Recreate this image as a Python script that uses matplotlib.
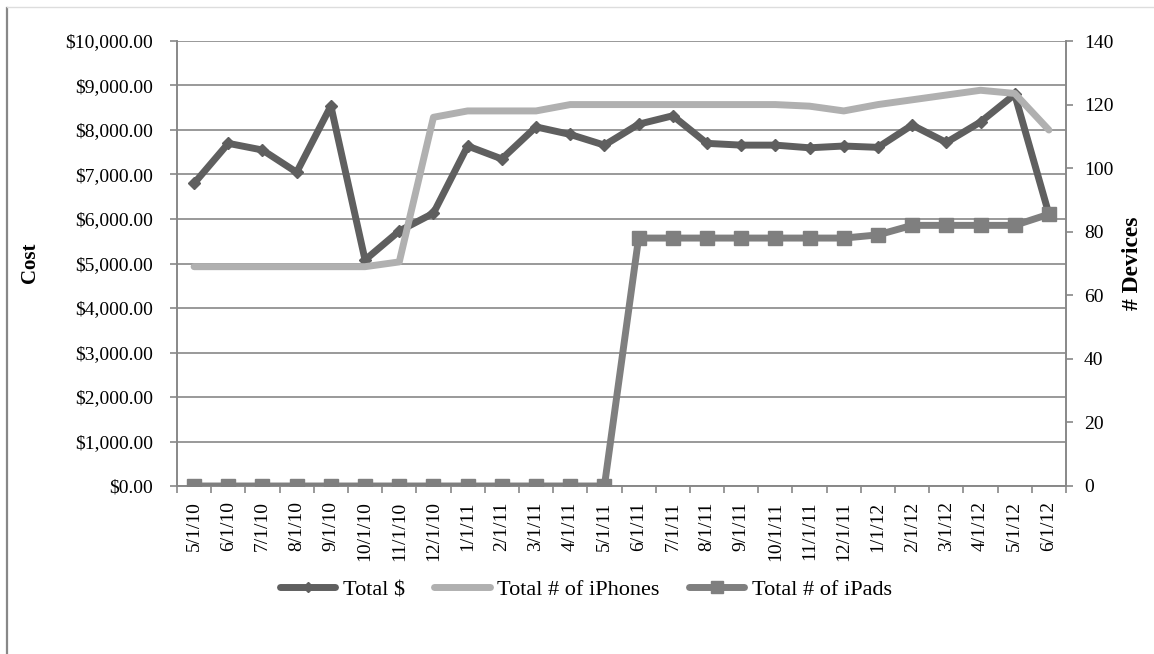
import matplotlib
matplotlib.use("Agg")
import matplotlib.pyplot as plt
from matplotlib.lines import Line2D
import numpy as np

# === Data ===
months = ["5/1/10", "6/1/10", "7/1/10", "8/1/10", "9/1/10", "10/1/10", "11/1/10",
          "12/1/10", "1/1/11", "2/1/11", "3/1/11", "4/1/11", "5/1/11", "6/1/11",
          "7/1/11", "8/1/11", "9/1/11", "10/1/11", "11/1/11", "12/1/11", "1/1/12",
          "2/1/12", "3/1/12", "4/1/12", "5/1/12", "6/1/12"]
total_cost = [6800, 7700, 7550, 7050, 8540, 5080, 5730, 6130, 7640, 7350, 8070,
              7900, 7660, 8130, 8320, 7700, 7660, 7660, 7600, 7640, 7610, 8110,
              7720, 8180, 8800, 6110]
iphones = [69, 69, 69, 69, 69, 69, 70.5, 116, 118, 118, 118, 120, 120, 120,
           120, 120, 120, 120, 119.5, 118, 120, 121.5, 123, 124.5, 123.5, 112]
ipads = [0, 0, 0, 0, 0, 0, 0, 0, 0, 0, 0, 0, 0, 78, 78, 78, 78, 78, 78, 78,
         79, 82, 82, 82, 82, 85.5]

plt.rcParams["font.family"] = ["Liberation Serif", "DejaVu Serif"]

grid_c = "#888888"
c_cost = "#5f5f5f"
c_phone = "#b0b0b0"
c_pad = "#7f7f7f"

fig = plt.figure(figsize=(11.54, 6.54), dpi=100)
ax = fig.add_axes([177 / 1154, 1 - 486 / 654, (1066 - 177) / 1154, (486 - 41) / 654])
ax2 = ax.twinx()

x = np.arange(len(months))

l1, = ax.plot(x, total_cost, color=c_cost, lw=5, marker="D", ms=6,
              solid_joinstyle="round", solid_capstyle="round", zorder=3)
l2, = ax2.plot(x, iphones, color=c_phone, lw=5,
               solid_joinstyle="round", solid_capstyle="round", zorder=2)
l3, = ax2.plot(x, ipads, color=c_pad, lw=5, marker="s", ms=10,
               solid_joinstyle="round", solid_capstyle="round", zorder=3)

# --- primary axis ---
ax.set_xlim(-0.5, len(months) - 0.5)
ax.set_ylim(0, 10000)
ax.set_yticks(np.arange(0, 10001, 1000))
ax.set_yticklabels(["${:,.2f}".format(v) for v in range(0, 10001, 1000)], fontsize=14)
ax.yaxis.grid(True, color=grid_c, lw=1.2)
ax.set_axisbelow(True)
ax.set_xticks(x)
ax.set_xticklabels(months, rotation=90, fontsize=14)
ax.set_xticks(np.arange(-0.5, len(months), 1), minor=True)
ax.tick_params(axis="x", which="major", length=0, pad=11)
ax.tick_params(axis="x", which="minor", length=5, width=1.2, color=grid_c)
ax.tick_params(axis="y", length=5, width=1.2, color=grid_c, pad=12)

# --- secondary axis ---
ax2.set_ylim(0, 140)
ax2.set_yticks(np.arange(0, 141, 20))
ax2.tick_params(axis="y", length=5, width=1.2, color=grid_c, pad=8, labelsize=14)

for a in (ax, ax2):
    a.spines["top"].set_visible(False)
    for s in ("left", "right", "bottom"):
        a.spines[s].set_color(grid_c)
        a.spines[s].set_linewidth(1.2)

ax.set_zorder(ax2.get_zorder() - 1)
ax.patch.set_visible(False)
ax2.patch.set_visible(False)

fig.text(30 / 1154, 1 - 263 / 654, "Cost", rotation=90, fontsize=15,
         fontweight="bold", ha="center", va="center")
fig.text(1133 / 1154, 1 - 263 / 654, "# Devices", rotation=90, fontsize=17,
         fontweight="bold", ha="center", va="center")

fig.legend([l1, l2, l3], ["Total $", "Total # of iPhones", "Total # of iPads"],
           loc="center", bbox_to_anchor=(586 / 1154, 1 - 590 / 654), ncol=3,
           frameon=False, fontsize=16, handlelength=2.5, handletextpad=0.35,
           columnspacing=1.3, markerscale=0.8)

# outer chart border
fig.add_artist(Line2D([7 / 1154, 7 / 1154], [0, 1 - 8 / 654],
                      transform=fig.transFigure, color=grid_c, lw=1.6))
fig.add_artist(Line2D([7 / 1154, 1], [1 - 7 / 654, 1 - 7 / 654],
                      transform=fig.transFigure, color="#dddddd", lw=1))

fig.savefig("out.png", dpi=100)
